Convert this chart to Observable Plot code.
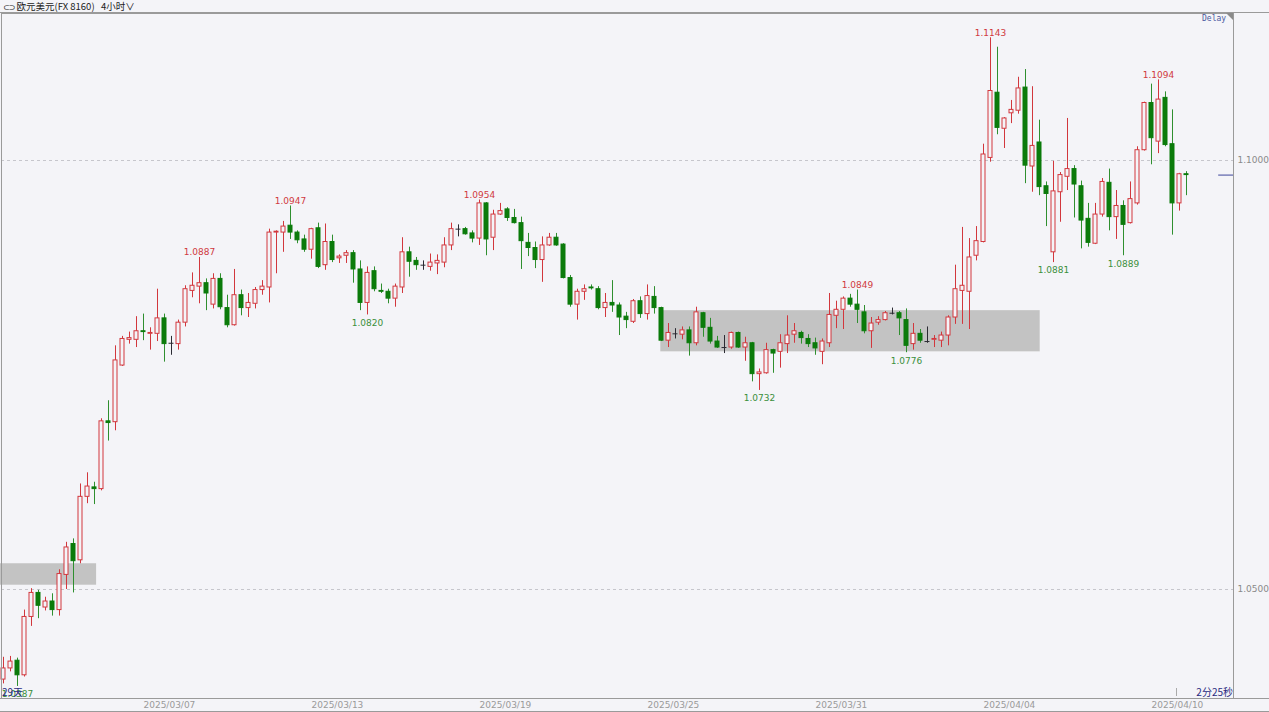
<!DOCTYPE html>
<html><head><meta charset="utf-8">
<script src="https://cdn.jsdelivr.net/npm/d3@7"></script>
<script src="https://cdn.jsdelivr.net/npm/@observablehq/plot@0.6"></script>
<style>
html,body{margin:0;padding:0;background:#f4f4f8;}
#wrap{position:relative;width:1269px;height:712px;overflow:hidden;background:#f4f4f8;}
#wrap svg{display:block;}
.ov{position:absolute;white-space:nowrap;}
.hl{position:absolute;left:0;width:1269px;height:1px;background:#9a9a9a;}
</style></head><body><div id="wrap"></div>
<script>
// EUR/USD 4h candles, 2025/03/03 .. 2025/04/10
const open = [1.0395,1.0408,1.0417,1.0400,1.0468,1.0496,1.0479,1.0486,1.0476,1.0517,
1.0553,1.0534,1.0608,1.0619,1.0617,1.0696,1.0695,1.0761,1.0791,1.0791,
1.0801,1.0798,1.0798,1.0816,1.0787,1.0786,1.0811,1.0848,1.0853,1.0857,
1.0832,1.0862,1.0828,1.0808,1.0843,1.0828,1.0833,1.0849,1.0852,1.0916,
1.0916,1.0924,1.0916,1.0908,1.0896,1.0921,1.0878,1.0905,1.0886,1.0889,
1.0892,1.0873,1.0834,1.0871,1.0848,1.0847,1.0839,1.0852,1.0893,1.0883,
1.0878,1.0876,1.0880,1.0881,1.0901,1.0920,1.0920,1.0915,1.0909,1.0950,
1.0910,1.0937,1.0943,1.0933,1.0927,1.0904,1.0898,1.0884,1.0901,1.0910,
1.0902,1.0863,1.0832,1.0847,1.0852,1.0850,1.0828,1.0834,1.0831,1.0818,
1.0812,1.0836,1.0821,1.0841,1.0828,1.0790,1.0798,1.0797,1.0802,1.0787,
1.0822,1.0805,1.0789,1.0782,1.0782,1.0799,1.0782,1.0787,1.0751,1.0752,
1.0779,1.0777,1.0786,1.0797,1.0799,1.0792,1.0787,1.0777,1.0787,1.0819,
1.0826,1.0839,1.0832,1.0823,1.0801,1.0811,1.0814,1.0822,1.0822,1.0814,
1.0786,1.0798,1.0789,1.0791,1.0790,1.0796,1.0817,1.0848,1.0847,1.0889,
1.0905,1.1003,1.1079,1.1037,1.1055,1.1058,1.1085,1.0993,1.1021,1.0970,
1.0893,1.0963,1.0981,1.0990,1.0970,1.0932,1.0903,1.0937,1.0974,1.0934,
1.0947,1.0927,1.0950,1.1012,1.1067,1.1022,1.1073,1.1019,1.0950,1.0984];
const high = [1.0421,1.0422,1.0420,1.0476,1.0501,1.0499,1.0491,1.0495,1.0523,1.0555,
1.0559,1.0623,1.0636,1.0625,1.0699,1.0720,1.0784,1.0795,1.0800,1.0818,
1.0821,1.0805,1.0850,1.0821,1.0795,1.0814,1.0854,1.0869,1.0887,1.0862,
1.0868,1.0868,1.0843,1.0873,1.0849,1.0845,1.0852,1.0860,1.0920,1.0918,
1.0929,1.0947,1.0918,1.0913,1.0921,1.0927,1.0926,1.0913,1.0890,1.0895,
1.0895,1.0883,1.0876,1.0876,1.0856,1.0850,1.0856,1.0910,1.0899,1.0887,
1.0883,1.0891,1.0890,1.0910,1.0927,1.0925,1.0922,1.0918,1.0954,1.0951,
1.0942,1.0950,1.0945,1.0943,1.0934,1.0915,1.0905,1.0911,1.0915,1.0915,
1.0903,1.0866,1.0850,1.0855,1.0855,1.0853,1.0845,1.0860,1.0834,1.0823,
1.0838,1.0841,1.0855,1.0853,1.0829,1.0810,1.0804,1.0806,1.0806,1.0829,
1.0823,1.0816,1.0795,1.0796,1.0800,1.0800,1.0794,1.0788,1.0757,1.0787,
1.0780,1.0797,1.0819,1.0810,1.0801,1.0797,1.0793,1.0792,1.0845,1.0836,
1.0841,1.0844,1.0849,1.0831,1.0817,1.0818,1.0824,1.0828,1.0824,1.0827,
1.0810,1.0803,1.0806,1.0796,1.0800,1.0819,1.0878,1.0922,1.0909,1.0923,
1.1019,1.1143,1.1132,1.1050,1.1070,1.1097,1.1106,1.1086,1.1047,1.0975,
1.0999,1.0986,1.1049,1.0994,1.0976,1.0950,1.0950,1.0979,1.0990,1.0965,
1.0953,1.0975,1.1016,1.1068,1.1089,1.1094,1.1080,1.1059,1.0985,1.0987];
const low = [1.0390,1.0404,1.0387,1.0398,1.0457,1.0466,1.0475,1.0469,1.0469,1.0500,
1.0496,1.0530,1.0600,1.0599,1.0615,1.0673,1.0685,1.0760,1.0786,1.0782,
1.0790,1.0779,1.0789,1.0765,1.0773,1.0779,1.0806,1.0840,1.0833,1.0825,
1.0827,1.0826,1.0805,1.0807,1.0819,1.0817,1.0827,1.0843,1.0834,1.0868,
1.0893,1.0908,1.0903,1.0893,1.0885,1.0874,1.0872,1.0881,1.0880,1.0880,
1.0857,1.0825,1.0820,1.0847,1.0845,1.0833,1.0829,1.0845,1.0864,1.0872,
1.0872,1.0871,1.0867,1.0875,1.0895,1.0911,1.0913,1.0904,1.0901,1.0889,
1.0895,1.0936,1.0929,1.0926,1.0873,1.0888,1.0874,1.0858,1.0900,1.0900,
1.0862,1.0829,1.0814,1.0837,1.0849,1.0826,1.0817,1.0823,1.0796,1.0804,
1.0810,1.0816,1.0814,1.0821,1.0789,1.0782,1.0792,1.0791,1.0772,1.0784,
1.0794,1.0786,1.0781,1.0775,1.0780,1.0781,1.0766,1.0742,1.0732,1.0751,
1.0752,1.0758,1.0775,1.0787,1.0786,1.0782,1.0773,1.0762,1.0782,1.0804,
1.0803,1.0829,1.0810,1.0798,1.0781,1.0808,1.0813,1.0820,1.0796,1.0776,
1.0779,1.0787,1.0787,1.0782,1.0782,1.0784,1.0809,1.0809,1.0803,1.0883,
1.0904,1.0998,1.1030,1.1014,1.1043,1.1054,1.0973,1.0963,1.0959,1.0923,
1.0881,1.0928,1.0965,1.0933,1.0897,1.0899,1.0902,1.0934,1.0918,1.0908,
1.0889,1.0926,1.0948,1.1011,1.0995,1.1008,1.1016,1.0913,1.0941,1.0959];
const close = [1.0408,1.0416,1.0400,1.0468,1.0496,1.0481,1.0486,1.0476,1.0518,1.0549,
1.0533,1.0608,1.0620,1.0617,1.0696,1.0694,1.0767,1.0792,1.0793,1.0801,
1.0800,1.0799,1.0816,1.0786,1.0787,1.0811,1.0850,1.0854,1.0857,1.0845,
1.0862,1.0829,1.0808,1.0843,1.0828,1.0834,1.0849,1.0853,1.0916,1.0917,
1.0923,1.0916,1.0907,1.0896,1.0920,1.0876,1.0905,1.0884,1.0888,1.0892,
1.0873,1.0834,1.0869,1.0850,1.0847,1.0839,1.0853,1.0893,1.0882,1.0878,
1.0878,1.0881,1.0883,1.0901,1.0920,1.0920,1.0914,1.0909,1.0950,1.0908,
1.0937,1.0941,1.0933,1.0927,1.0906,1.0898,1.0884,1.0901,1.0910,1.0901,
1.0863,1.0832,1.0847,1.0850,1.0851,1.0828,1.0834,1.0831,1.0817,1.0814,
1.0836,1.0821,1.0842,1.0828,1.0790,1.0799,1.0798,1.0802,1.0787,1.0823,
1.0805,1.0789,1.0782,1.0782,1.0799,1.0782,1.0787,1.0751,1.0753,1.0779,
1.0775,1.0787,1.0796,1.0801,1.0793,1.0786,1.0781,1.0789,1.0820,1.0826,
1.0839,1.0832,1.0826,1.0801,1.0810,1.0814,1.0822,1.0822,1.0816,1.0784,
1.0798,1.0790,1.0789,1.0792,1.0796,1.0817,1.0850,1.0854,1.0887,1.0906,
1.1007,1.1081,1.1038,1.1049,1.1059,1.1084,1.0994,1.1017,1.0969,1.0961,
1.0964,1.0983,1.0990,1.0972,1.0930,1.0904,1.0937,1.0975,1.0934,1.0947,
1.0925,1.0955,1.1012,1.1067,1.1026,1.1071,1.1018,1.0950,1.0984,1.0983];

// marked swing highs / lows (candle index)
const highIdx = [28, 41, 68, 122, 141, 165];
const lowIdx  = [2, 52, 108, 129, 150, 160];

// shaded zones (candle index span, price span)
const zoneStart = [-0.45, 93.9];
const zoneEnd   = [13.3, 148.1];
const zoneLow   = [1.0505, 1.0777];
const zoneHigh  = [1.0530, 1.0825];

// axes
const yTicks = [1.05, 1.10];
const xTickIdx = [24, 48, 72, 96, 120, 144, 168];
const xTickLabels = ["2025/03/07","2025/03/13","2025/03/19","2025/03/25","2025/03/31","2025/04/04","2025/04/10"];

// ---- build ----
const n = open.length;
const candles = open.map((o, i) => ({i, open: o, high: high[i], low: low[i], close: close[i]}));
const dir = d => d.close > d.open ? 1 : d.close < d.open ? -1 : 0;
const RED = "#d2373d", GREEN = "#0b7b0b", GWICK = "#2f8f2f", DOJI = "#2b2b33", BG = "#f4f4f8";
const wickCol = d => dir(d) > 0 ? RED : dir(d) < 0 ? GWICK : DOJI;
const bodyCol = d => dir(d) > 0 ? RED : dir(d) < 0 ? GREEN : DOJI;
const hw = 2 / 7;
const xDomain = [-2 / 7, 1230 / 7];
const yDomain = [1.037296, 1.117133];
const zones = zoneStart.map((s, k) => ({s, e: zoneEnd[k], lo: zoneLow[k], hi: zoneHigh[k]}));
const hiMarks = highIdx.map(i => ({i, v: high[i]}));
const loMarks = lowIdx.map(i => ({i, v: low[i]}));

const chart = Plot.plot({
  width: 1269, height: 712,
  marginTop: 13, marginBottom: 14, marginLeft: 1, marginRight: 36,
  x: {type: "linear", domain: xDomain, axis: null},
  y: {domain: yDomain, axis: null},
  color: {type: "identity"},
  style: {background: BG, fontFamily: "DejaVu Sans", fontSize: "9px", overflow: "visible"},
  marks: [
    Plot.rect(zones, {x1: "s", x2: "e", y1: "lo", y2: "hi", fill: "#c3c3c3"}),
    Plot.ruleY(yTicks, {stroke: "#c6c6cc", strokeDasharray: "3,3"}),
    Plot.ruleX(candles, {x: "i", y1: "low", y2: "high", stroke: wickCol}),
    Plot.rect(candles.filter(d => dir(d) !== 0), {
      x1: d => d.i - hw, x2: d => d.i + hw, y1: "open", y2: "close",
      fill: d => dir(d) > 0 ? BG : GREEN, stroke: bodyCol, strokeWidth: 1
    }),
    Plot.ruleY(candles.filter(d => dir(d) === 0), {
      y: "open", x1: d => d.i - hw - 0.07, x2: d => d.i + hw + 0.07, stroke: DOJI
    }),
    Plot.text(hiMarks, {x: "i", y: "v", text: d => d.v.toFixed(4), dy: -5, fill: "#d03a40", fontSize: 9}),
    Plot.text(loMarks, {x: "i", y: "v", text: d => d.v.toFixed(4), dy: 8, fill: "#3b8f3b", fontSize: 9}),
    Plot.ruleY([close[n - 1]], {x1: n + 3.6, x2: xDomain[1], stroke: "#5a60aa", strokeWidth: 1.2}),
    Plot.axisY({anchor: "right", ticks: yTicks, tickFormat: d3.format(".4f"), tickSize: 0, tickPadding: 4, color: "#8a8a8a"}),
    Plot.axisX({ticks: xTickIdx.map(i => i - 0.3), tickFormat: (d, k) => xTickLabels[k], tickSize: 0, tickPadding: 3, color: "#9a9a9a"}),
    Plot.frame({stroke: "#9a9a9a"})
  ]
});

const wrap = document.getElementById("wrap");
wrap.appendChild(chart);

function ov(html, css) {
  const d = document.createElement("div");
  d.className = "ov";
  d.innerHTML = html;
  Object.assign(d.style, css);
  wrap.appendChild(d);
  return d;
}
ov("<span style='font-family:DejaVu Sans;font-size:8px;letter-spacing:-1px'>⊂⊃</span> 欧元美元(FX 8160)&nbsp;&nbsp; 4小时∨",
   {left: "3px", top: "0px", lineHeight: "13px", fontFamily: "'Noto Sans CJK SC'", fontSize: "9.5px", color: "#222"});
ov("Delay", {left: "1202px", top: "14px", fontFamily: "'DejaVu Sans Mono'", fontSize: "8px", color: "#4a5aa0"});
ov("2分25秒", {right: "36px", top: "684px", fontFamily: "'Noto Sans CJK SC'", fontSize: "10px", color: "#2a2a80"});
ov("29天", {left: "2px", top: "684px", fontFamily: "'Noto Sans CJK SC'", fontSize: "10px", color: "#2a2a80"});
const lines = [12, 698, 711];
lines.forEach(t => { const l = document.createElement("div"); l.className = "hl"; l.style.top = t + "px"; wrap.appendChild(l); });
const tri = document.createElement("div");
Object.assign(tri.style, {position: "absolute", left: "1226px", top: "13px", width: "0", height: "0",
  borderTop: "7px solid #8a8a8a", borderLeft: "7px solid transparent"});
wrap.appendChild(tri);
const tk = document.createElement("div");
Object.assign(tk.style, {position: "absolute", left: "1176px", top: "688px", width: "1px", height: "8px", background: "#aaa"});
wrap.appendChild(tk);
</script></body></html>
